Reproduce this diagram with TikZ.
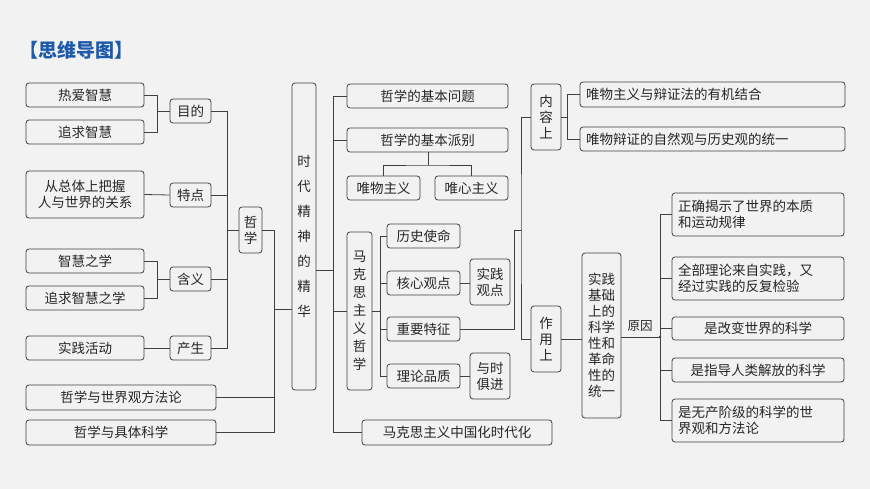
\documentclass[tikz,border=0pt]{standalone}
\usepackage{fontspec}
\setmainfont{Noto Sans CJK SC}
\begin{document}
\begin{tikzpicture}[x=1pt,y=-1pt,
 box/.style={draw=black!75,line width=0.8pt,rounded corners=3pt,inner sep=0pt,align=center,font=\fontsize{13.5}{16}\selectfont,text=black!85},
 lbox/.style={box,align=left,text width=#1,inner xsep=6pt},
 ln/.style={draw=black!75,line width=0.8pt}]
\fill[black!5] (0,0) rectangle (870,489);
\useasboundingbox (0,0) rectangle (870,489);
\node[anchor=west,font=\fontsize{19}{22}\selectfont\bfseries,text={rgb,255:red,30;green,90;blue,170}] (title) at (16,50) {【思维导图】};
\newcommand\bx[6]{\node[box,minimum width={(#4-#2)*1pt},minimum height={(#5-#3)*1pt}] (#1) at ({(#2+#4)/2},{(#3+#5)/2}) {#6};}
\newcommand\lbx[6]{\node[lbox={(#4-#2-12)*1pt},minimum width={(#4-#2)*1pt},minimum height={(#5-#3)*1pt}] (#1) at ({(#2+#4)/2},{(#3+#5)/2}) {#6};}
% left
\bx{a1}{26}{83}{144}{107}{热爱智慧}
\bx{a2}{26}{120}{144}{144}{追求智慧}
\bx{mud}{170}{99}{211}{123}{目的}
\bx{b1}{26}{171}{144}{218}{从总体上把握\\人与世界的关系}
\bx{td}{170}{183}{211}{207}{特点}
\bx{c1}{26}{249}{144}{273}{智慧之学}
\bx{c2}{26}{286}{144}{310}{追求智慧之学}
\bx{hy}{170}{267}{211}{291}{含义}
\bx{d1}{26}{336}{144}{360}{实践活动}
\bx{cs}{170}{336}{211}{360}{产生}
\bx{zx}{239}{207}{262}{253}{哲\\学}
\bx{e1}{26}{385}{216}{410}{哲学与世界观方法论}
\bx{e2}{26}{420}{216}{445}{哲学与具体科学}
\bx{sd}{292}{83}{316}{390}{时\\[9pt]代\\[9pt]精\\[9pt]神\\[9pt]的\\[9pt]精\\[9pt]华}
\coordinate (j1) at (157,111); \coordinate (j2) at (157,279);
\draw[ln] (a1.east) -| (j1) -- (mud.west); \draw[ln] (a2.east) -| (j1);
\draw[ln] (b1.east) -- (td.west);
\draw[ln] (c1.east) -| (j2) -- (hy.west); \draw[ln] (c2.east) -| (j2);
\draw[ln] (d1.east) -- (cs.west);
\coordinate (j3) at (227,230);
\draw[ln] (mud.east) -| (j3); \draw[ln] (td.east) -| (j3); \draw[ln] (hy.east) -| (j3); \draw[ln] (cs.east) -| (j3); \draw[ln] (j3) -- (zx.west);
\coordinate (j4) at (274,309);
\draw[ln] (zx.east) -| (j4) -- (sd.west|-j4); \draw[ln] (e1.east) -| (j4); \draw[ln] (e2.east) -| (j4);
% middle
\bx{f1}{347}{84}{508}{108}{哲学的基本问题}
\bx{f2}{347}{128}{508}{152}{哲学的基本派别}
\bx{g1}{347}{176}{420}{200}{唯物主义}
\bx{g2}{435}{176}{508}{200}{唯心主义}
\bx{mk}{347}{232}{372}{390}{马\\[2pt]克\\[2pt]思\\[2pt]主\\[2pt]义\\[2pt]哲\\[2pt]学}
\bx{zg}{362}{420}{552}{445}{马克思主义中国化时代化}
\bx{h1}{387}{224}{460}{248}{历史使命}
\bx{h2}{387}{271}{460}{295}{核心观点}
\bx{h3}{387}{317}{460}{341}{重要特征}
\bx{h4}{387}{364}{460}{388}{理论品质}
\bx{k1}{470}{259}{510}{305}{实践\\观点}
\bx{k2}{470}{353}{510}{399}{与时\\俱进}
\coordinate (j5) at (333,270);
\draw[ln] (sd.east|-j5) -- (j5);
\draw[ln] (f1.west) -| (j5); \draw[ln] (f2.west) -| (j5); \draw[ln] (zg.west) -| (j5);
\draw[ln] (mk.west) -- (mk.west-|j5);
\coordinate (j6) at (428,165);
\draw[ln] (f2.south-|j6) -- (j6); \draw[ln] (g1.north) |- (j6) -| (g2.north);
\coordinate (j7) at (380,311);
\draw[ln] (mk.east|-j7) -- (j7);
\draw[ln] (h1.west) -| (j7); \draw[ln] (h2.west) -| (j7); \draw[ln] (h3.west) -| (j7); \draw[ln] (h4.west) -| (j7);
\draw[ln] (h2.east) -- (h2.east-|k1.west); \draw[ln] (h4.east) -- (h4.east-|k2.west);
% right
\bx{nr}{531}{84}{561}{150}{内\\容\\上}
\bx{zy}{531}{306}{561}{372}{作\\用\\上}
\lbx{m1}{580}{82}{845}{107}{唯物主义与辩证法的有机结合}
\lbx{m2}{580}{127}{845}{151}{唯物辩证的自然观与历史观的统一}
\bx{sj}{582}{253}{621}{418}{实践\\基础\\上的\\科学\\性和\\革命\\性的\\统一}
\coordinate (j8) at (521,230); \coordinate (j8b) at (514,230);
\draw[ln] (h3.east) -| (j8b) -- (j8);
\draw[ln] (nr.west) -| (j8) |- (zy.west);
\coordinate (j9) at (567,117);
\draw[ln] (nr.east) -- (j9); \draw[ln] (m1.west) -| (j9); \draw[ln] (m2.west) -| (j9);
\draw[ln] (zy.east) -- (zy.east-|sj.west);
\node[font=\fontsize{12.5}{14}\selectfont,text=black!85] (yy) at (640,326) {原因};
\lbx{r1}{672}{193}{844}{236}{正确揭示了世界的本质\\和运动规律}
\lbx{r2}{672}{257}{844}{300}{全部理论来自实践，又\\经过实践的反复检验}
\bx{r3}{672}{317}{844}{340}{是改变世界的科学}
\bx{r4}{672}{358}{844}{382}{是指导人类解放的科学}
\lbx{r5}{672}{399}{844}{442}{是无产阶级的科学的世\\界观和方法论}
\coordinate (j10) at (660,337);
\draw[ln] (sj.east|-j10) -- (j10);
\fill[black!75] (j10) circle (1.3pt);
\draw[ln] (r1.west) -| (j10); \draw[ln] (r2.west) -| (j10); \draw[ln] (r3.west) -| (j10); \draw[ln] (r4.west) -| (j10); \draw[ln] (r5.west) -| (j10);
\end{tikzpicture}
\end{document}
